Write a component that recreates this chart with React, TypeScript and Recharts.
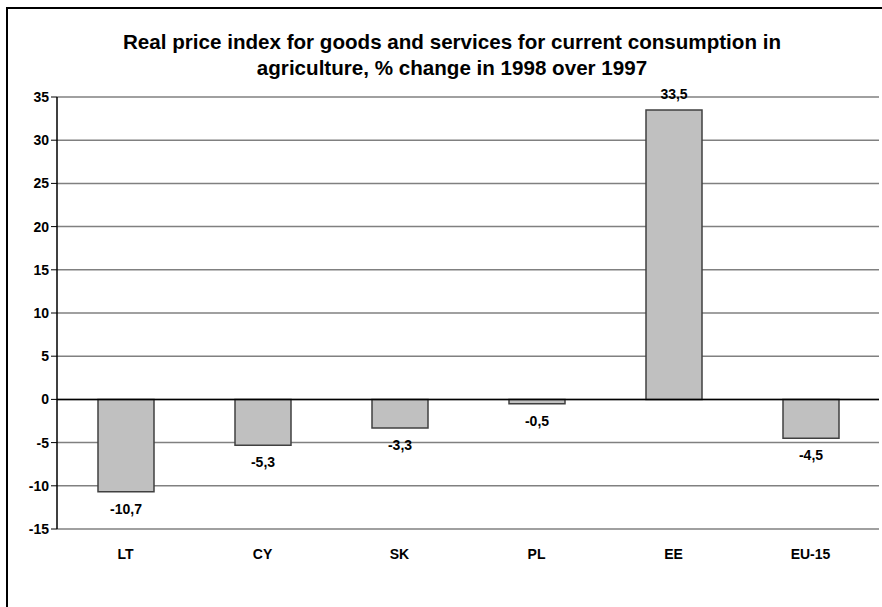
import { Bar, BarChart, CartesianGrid, LabelList, ReferenceLine, XAxis, YAxis } from "recharts"

const countries = ["LT", "CY", "SK", "PL", "EE", "EU-15"]
const changes = [-10.7, -5.3, -3.3, -0.5, 33.5, -4.5]
const yTicks = [-15, -10, -5, 0, 5, 10, 15, 20, 25, 30, 35]

const data = countries.map((name, i) => ({ name, value: changes[i] }))

const font = "Arial, 'Liberation Sans', sans-serif"

function ValueLabel(props: any) {
  const { x, y, width, height, value } = props
  const top = Math.min(y, y + height)
  const bottom = Math.max(y, y + height)
  const cy = value >= 0 ? top - 16 : bottom + 17
  return (
    <text
      x={x + width / 2}
      y={cy}
      textAnchor="middle"
      dominantBaseline="central"
      fontFamily={font}
      fontWeight="bold"
      fontSize={14}
      fill="#000"
    >
      {String(value).replace(".", ",")}
    </text>
  )
}

export default function App() {
  return (
    <div style={{ position: "absolute", left: 0, top: 0, width: 882, height: 607, background: "#fff", overflow: "hidden" }}>
      <div
        style={{
          position: "absolute",
          left: 6,
          top: 7,
          width: 900,
          height: 620,
          borderTop: "2px solid #000",
          borderLeft: "2px solid #000",
        }}
      />
      <div
        style={{
          position: "absolute",
          left: 0,
          top: 29,
          width: 904,
          textAlign: "center",
          fontFamily: font,
          fontWeight: "bold",
          fontSize: 20.6,
          lineHeight: "26px",
          color: "#000",
        }}
      >
        Real price index for goods and services for current consumption in
        <br />
        agriculture, % change in 1998 over 1997
      </div>
      <div style={{ position: "absolute", left: 0, top: 0 }}>
        <BarChart
          width={882}
          height={607}
          data={data}
          margin={{ top: 97, right: 3, bottom: 48, left: 7 }}
          barSize={56}
        >
          <CartesianGrid vertical={false} stroke="#808080" strokeWidth={1.5} />
          <XAxis
            dataKey="name"
            axisLine={false}
            tickLine={false}
            height={30}
            tickMargin={14}
            tick={{ fontFamily: font, fontWeight: "bold", fontSize: 14, fill: "#000" }}
          />
          <YAxis
            domain={[-15, 35]}
            ticks={yTicks}
            width={50}
            interval={0}
            axisLine={{ stroke: "#000", strokeWidth: 1.5 }}
            tickLine={{ stroke: "#000" }}
            tickSize={6}
            tick={{ fontFamily: font, fontWeight: "bold", fontSize: 14, fill: "#000" }}
          />
          <YAxis
            yAxisId="right"
            orientation="right"
            domain={[-15, 35]}
            width={0}
            tick={false}
            tickLine={false}
            axisLine={{ stroke: "#808080", strokeWidth: 1.5 }}
          />
          <ReferenceLine y={0} stroke="#000" strokeWidth={1.5} />
          <Bar dataKey="value" fill="#c0c0c0" stroke="#404040" strokeWidth={1.5} isAnimationActive={false}>
            <LabelList dataKey="value" content={ValueLabel} />
          </Bar>
        </BarChart>
      </div>
    </div>
  )
}
